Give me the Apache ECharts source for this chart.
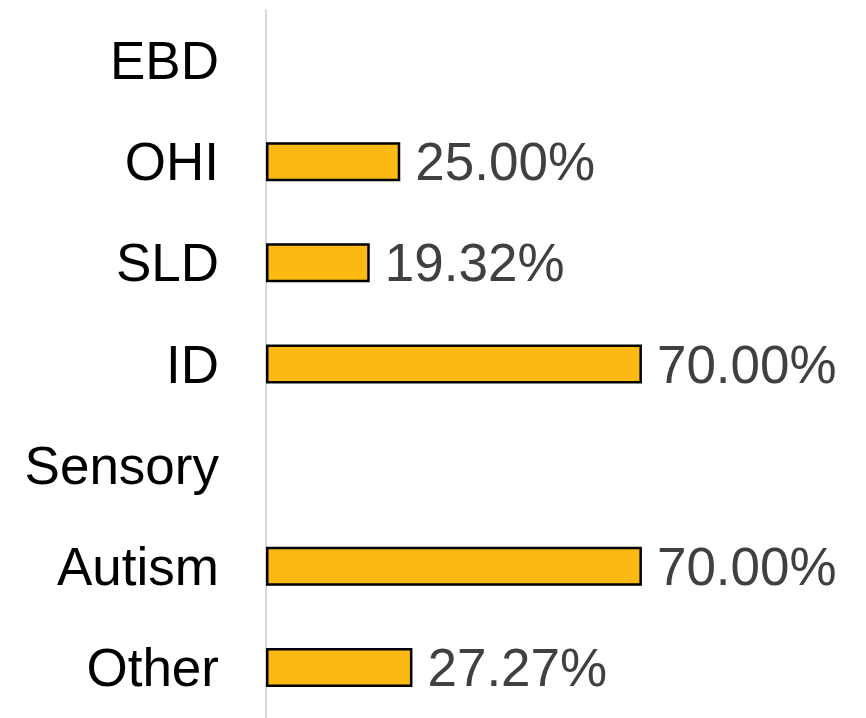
<!DOCTYPE html>
<html>
<head>
<meta charset="utf-8">
<script src="https://cdn.jsdelivr.net/npm/echarts@6/dist/echarts.min.js"></script>
<style>
  html, body { margin: 0; padding: 0; background: #fff; }
  #chart { width: 866px; height: 718px; }
</style>
</head>
<body>
<div id="chart"></div>
<script>
var categories = ["EBD", "OHI", "SLD", "ID", "Sensory", "Autism", "Other"];
var values = [null, 25.00, 19.32, 70.00, null, 70.00, 27.27];

var chart = echarts.init(document.getElementById("chart"), null, {renderer: "svg"});

chart.setOption({
  animation: false,
  grid: {
    left: 266,
    right: 63,
    top: 10,
    bottom: -7,
    containLabel: false
  },
  xAxis: {
    type: "value",
    min: 0,
    max: 100,
    show: false
  },
  yAxis: {
    type: "category",
    inverse: true,
    data: categories,
    axisLine: {show: true, lineStyle: {color: "#d9d9d9", width: 2}},
    axisTick: {show: false},
    axisLabel: {
      margin: 47,
      color: "#000",
      fontSize: 53,
      fontFamily: "Liberation Sans, Arial, sans-serif"
    }
  },
  series: [
    {
      type: "bar",
      data: values,
      barWidth: 39,
      itemStyle: {
        color: "#fdb913",
        borderColor: "#000",
        borderWidth: 2.5
      },
      label: {
        show: true,
        position: "right",
        distance: 15,
        color: "#404040",
        fontSize: 53,
        fontFamily: "Liberation Sans, Arial, sans-serif",
        formatter: function (p) {
          return p.value == null ? "" : p.value.toFixed(2) + "%";
        }
      }
    }
  ]
});
</script>
</body>
</html>
